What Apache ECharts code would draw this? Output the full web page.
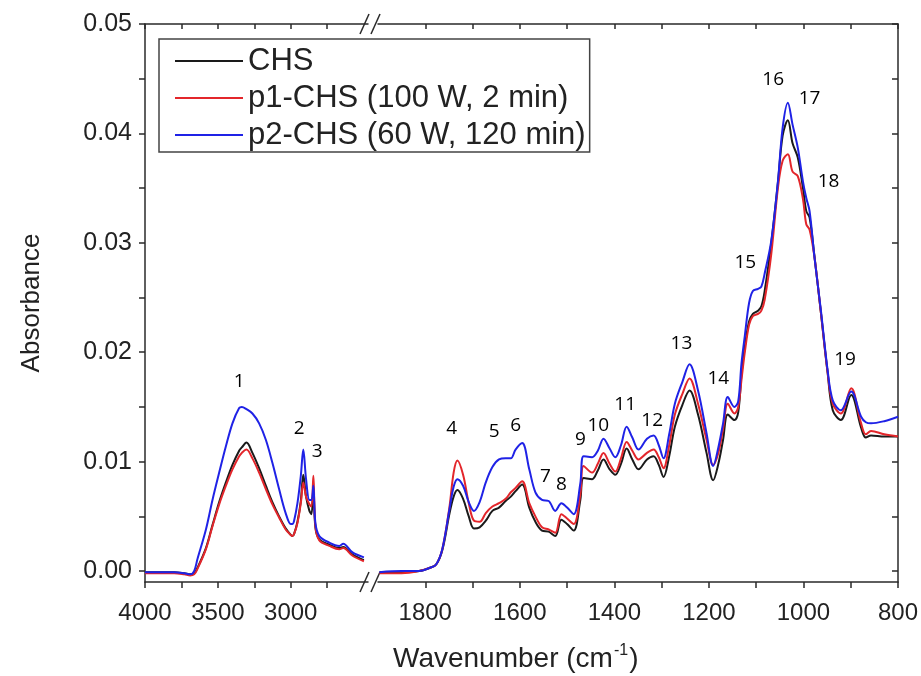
<!DOCTYPE html>
<html>
<head>
<meta charset="utf-8">
<script src="https://cdn.jsdelivr.net/npm/echarts@6/dist/echarts.min.js"></script>
<style>
html,body{margin:0;padding:0;background:#fff;}
#chart{width:921px;height:676px;}
</style>
</head>
<body>
<div id="chart"></div>
<script>
// ---- Data ----
const seriesNames = ['CHS', 'p1-CHS (100 W, 2 min)', 'p2-CHS (60 W, 120 min)'];

// High wavenumber segment (4000 - 2500 cm-1)
const wnHigh = [4000, 3900, 3800, 3730, 3690, 3663, 3640, 3582, 3537, 3491, 3445, 3400, 3354, 3336, 3304, 3263, 3217, 3171, 3126, 3080, 3035, 3000, 2989, 2977, 2954, 2931, 2914, 2895, 2872, 2858, 2845, 2831, 2804, 2735, 2667, 2640, 2576, 2498];
const chsHigh = [-0.0001, -0.0001, -0.0001, -0.0002, -0.0003, -0.0002, 0.0003, 0.0021, 0.0042, 0.0063, 0.0081, 0.0097, 0.0110, 0.0113, 0.01175, 0.0108, 0.0094, 0.0078, 0.0063, 0.0050, 0.0039, 0.0033, 0.0032, 0.0034, 0.0045, 0.0064, 0.0088, 0.0068, 0.0055, 0.0052, 0.0076, 0.0040, 0.0029, 0.0024, 0.0021, 0.0022, 0.0015, 0.0010];
const p1High = [-0.0002, -0.0002, -0.0002, -0.0003, -0.0004, -0.0003, 0.0002, 0.0020, 0.0041, 0.0061, 0.0078, 0.0093, 0.0105, 0.0108, 0.0111, 0.0103, 0.0090, 0.0075, 0.0061, 0.0049, 0.0038, 0.0033, 0.0032, 0.0034, 0.0044, 0.0062, 0.0081, 0.0068, 0.0061, 0.0059, 0.0087, 0.0041, 0.0028, 0.0023, 0.0020, 0.0021, 0.0014, 0.0009];
const p2High = [-0.0001, -0.0001, -0.0001, -0.0002, -0.0003, 0.0000, 0.0011, 0.0038, 0.0065, 0.0090, 0.0114, 0.0135, 0.0149, 0.0150, 0.0148, 0.0144, 0.0135, 0.0120, 0.0099, 0.0075, 0.0053, 0.0043, 0.0043, 0.0046, 0.0062, 0.0087, 0.0111, 0.0084, 0.0065, 0.0065, 0.0078, 0.0044, 0.0032, 0.0026, 0.0023, 0.0025, 0.0017, 0.00125];

// Low wavenumber segment (1900 - 800 cm-1)
const wnLow = [1897, 1850, 1813, 1790, 1777, 1764, 1749, 1740, 1732, 1720, 1708, 1697, 1685, 1672, 1658, 1644, 1630, 1619, 1609, 1595, 1580, 1567, 1553, 1539, 1525, 1512, 1500, 1486, 1472, 1465, 1447, 1435, 1423, 1410, 1398, 1386, 1374, 1362, 1349, 1331, 1317, 1306, 1296, 1284, 1272, 1256, 1241, 1223, 1205, 1191, 1180, 1170, 1160, 1146, 1138, 1131, 1124, 1115, 1107, 1096, 1089, 1082, 1068, 1054, 1044, 1033, 1023, 1012, 1001, 994, 987, 977, 963, 949, 938, 921, 899, 878, 868, 857, 829, 800];
const chsLow = [-0.0001, -0.0001, 0.0000, 0.0003, 0.0006, 0.0019, 0.0052, 0.0068, 0.0074, 0.0066,
  0.0050, 0.0039, 0.0040, 0.0046, 0.0055, 0.0058, 0.0064, 0.0068, 0.0073, 0.0079,
  0.0058, 0.0045, 0.0037, 0.0036, 0.0032, 0.0047, 0.0043, 0.0037, 0.0065, 0.0085,
  0.0084, 0.0092, 0.0102, 0.0093, 0.0088, 0.0098, 0.0112, 0.0102, 0.0093, 0.0102,
  0.0105, 0.0097, 0.0086, 0.0105, 0.0132, 0.0152, 0.0165, 0.0143, 0.0108, 0.0083,
  0.0098, 0.0120, 0.0143, 0.0138, 0.0145, 0.0180, 0.0205, 0.0228, 0.0235, 0.0238,
  0.0242, 0.0256, 0.0300, 0.0355, 0.0398, 0.0412, 0.0391, 0.0378, 0.0350, 0.0329,
  0.0323, 0.0289, 0.0236, 0.0182, 0.0147, 0.0138, 0.0161, 0.0131, 0.0122, 0.0124,
  0.0123, 0.0123];
const p1Low = [-0.0002, -0.0002, 0.0000, 0.0003, 0.0006, 0.0020, 0.0058, 0.0090, 0.0101, 0.0088,
  0.0062, 0.0046, 0.0045, 0.0053, 0.0059, 0.0062, 0.0066, 0.0072, 0.0076, 0.0082,
  0.0062, 0.0050, 0.0040, 0.0038, 0.0035, 0.0052, 0.0048, 0.0043, 0.0070, 0.0096,
  0.0090, 0.0098, 0.0108, 0.0098, 0.0091, 0.0103, 0.0118, 0.0110, 0.0102, 0.0108,
  0.0111, 0.0104, 0.0094, 0.0115, 0.0143, 0.0162, 0.0176, 0.0153, 0.0120, 0.0097,
  0.0108, 0.0130, 0.0153, 0.0144, 0.0150, 0.0175, 0.0200, 0.0225, 0.0233, 0.0235,
  0.0238, 0.0248, 0.0290, 0.0350, 0.0375, 0.0381, 0.0365, 0.0361, 0.0340, 0.0317,
  0.0312, 0.0288, 0.0236, 0.0182, 0.0153, 0.0144, 0.0167, 0.0135, 0.0125, 0.0128,
  0.0125, 0.0123];
const p2Low = [-0.0001, 0.0000, 0.0000, 0.0003, 0.0006, 0.0020, 0.0056, 0.0077, 0.0084, 0.0078,
  0.0063, 0.0055, 0.0063, 0.0081, 0.0095, 0.0102, 0.0103, 0.0103, 0.0111, 0.0117,
  0.0093, 0.0072, 0.0065, 0.0064, 0.0055, 0.0062, 0.0058, 0.0052, 0.0080, 0.0105,
  0.0104, 0.0110, 0.0121, 0.0112, 0.0104, 0.0115, 0.0132, 0.0122, 0.0111, 0.0121,
  0.0124, 0.0115, 0.0103, 0.0125, 0.0153, 0.0173, 0.0189, 0.0165, 0.0126, 0.0096,
  0.0113, 0.0135, 0.0159, 0.0150, 0.0155, 0.0190, 0.0215, 0.0245, 0.0256, 0.0258,
  0.0260, 0.0272, 0.0302, 0.0356, 0.0405, 0.0428, 0.0408, 0.0387, 0.0356, 0.0341,
  0.0329, 0.0288, 0.0238, 0.0184, 0.0156, 0.0147, 0.0164, 0.0141, 0.0136, 0.0135,
  0.0137, 0.0141];

// Band annotations (number, wavenumber, absorbance where the number sits)
const bandHighNames = ['1', '2', '3'];
const bandHighWn = [3354, 2943, 2818];
const bandHighAbs = [0.01736, 0.01300, 0.01094];
const bandLowNames = ['4', '5', '6', '7', '8', '9', '10', '11', '12', '13', '14', '15', '16', '17', '18', '19'];
const bandLowWn = [1744, 1654, 1609, 1546, 1512, 1472, 1434, 1377, 1320, 1258, 1180, 1123, 1064, 987, 947, 912];
const bandLowAbs = [0.01306, 0.01276, 0.01327, 0.0086, 0.0079, 0.0120, 0.01327, 0.0152, 0.01376, 0.0208, 0.0176, 0.0282, 0.0449, 0.0432, 0.0356, 0.0193];

// Axis ticks
const highTicks = [4000, 3750, 3500, 3250, 3000, 2750];
const highLabels = [4000, 3500, 3000];
const lowTicks = [1800, 1700, 1600, 1500, 1400, 1300, 1200, 1100, 1000, 900, 800];
const lowLabels = [1800, 1600, 1400, 1200, 1000, 800];
const yTicks = [0, 0.005, 0.01, 0.015, 0.02, 0.025, 0.03, 0.035, 0.04, 0.045, 0.05];
const yLabels = [0, 0.01, 0.02, 0.03, 0.04, 0.05];

// ---- Chart ----
const colors = ['#1a1a1a', '#e3262b', '#1f22e6'];
const FONT = '"Liberation Sans", Arial, sans-serif';
const AXC = '#2a2a2a';

function zip(xs, ys) { return xs.map((x, i) => [x, ys[i]]); }

const chart = echarts.init(document.getElementById('chart'), null, {renderer: 'canvas'});

const gridTop = 24, gridBottom = 676 - 582;
const axisLineStyle = {color: AXC, width: 1.5};

function bottomX(gridIndex, min, max, ticks, labels) {
  return {
    gridIndex, type: 'value', inverse: true, min, max, position: 'bottom',
    axisLine: {show: true, onZero: false, lineStyle: axisLineStyle},
    axisTick: {show: true, inside: false, length: 6, customValues: ticks, lineStyle: axisLineStyle},
    axisLabel: {show: true, customValues: labels, formatter: v => String(v), fontSize: 24, fontFamily: FONT, color: '#222', margin: 19},
    splitLine: {show: false}
  };
}
function topX(gridIndex, min, max, ticks) {
  return {
    gridIndex, type: 'value', inverse: true, min, max, position: 'top',
    axisLine: {show: true, onZero: false, lineStyle: axisLineStyle},
    axisTick: {show: true, inside: true, length: 5, customValues: ticks, lineStyle: axisLineStyle},
    axisLabel: {show: false},
    splitLine: {show: false}
  };
}

const lineSeries = [];
const segs = [
  {xi: 0, yi: 0, data: [chsHigh, p1High, p2High], wn: wnHigh},
  {xi: 2, yi: 1, data: [chsLow, p1Low, p2Low], wn: wnLow}
];
segs.forEach(s => {
  s.data.forEach((vals, k) => {
    lineSeries.push({
      name: seriesNames[k], type: 'line', xAxisIndex: s.xi, yAxisIndex: s.yi,
      data: zip(s.wn, vals), symbol: 'none', showSymbol: false, smooth: 0.35,
      lineStyle: {color: colors[k], width: 2}, itemStyle: {color: colors[k]},
      emphasis: {disabled: true}, silent: true, z: 2 + k
    });
  });
});

const bandLabel = {
  show: true, position: 'inside', formatter: p => p.value[2],
  fontFamily: '"Open Sans", "Noto Sans", sans-serif', fontSize: 19, color: '#000', opacity: 1
};
lineSeries.push({
  type: 'scatter', xAxisIndex: 0, yAxisIndex: 0, symbolSize: 2, itemStyle: {color: 'rgba(0,0,0,0)'},
  data: bandHighNames.map((n, i) => [bandHighWn[i], bandHighAbs[i], n]),
  label: bandLabel, silent: true, z: 10
});
lineSeries.push({
  type: 'scatter', xAxisIndex: 2, yAxisIndex: 1, symbolSize: 2, itemStyle: {color: 'rgba(0,0,0,0)'},
  data: bandLowNames.map((n, i) => [bandLowWn[i], bandLowAbs[i], n]),
  label: bandLabel, silent: true, z: 10
});

const breakLine = {stroke: AXC, lineWidth: 1.5};
const option = {
  animation: false,
  backgroundColor: '#ffffff',
  grid: [
    {left: 145, top: gridTop, width: 223, bottom: gridBottom, containLabel: false},
    {left: 378, top: gridTop, right: 21, bottom: gridBottom, containLabel: false}
  ],
  xAxis: [
    bottomX(0, 2470, 4000, highTicks, highLabels),
    topX(0, 2470, 4000, highTicks),
    bottomX(1, 800, 1900, lowTicks, lowLabels),
    topX(1, 800, 1900, lowTicks)
  ],
  yAxis: [
    {
      gridIndex: 0, type: 'value', min: -0.001, max: 0.05, position: 'left',
      name: 'Absorbance', nameLocation: 'middle', nameGap: 100, nameRotate: 90,
      nameTextStyle: {fontSize: 26, fontFamily: FONT, color: '#222'},
      axisLine: {show: true, onZero: false, lineStyle: axisLineStyle},
      axisTick: {show: true, inside: false, length: 6, customValues: yTicks, lineStyle: axisLineStyle},
      axisLabel: {show: true, customValues: yLabels, formatter: v => v.toFixed(2), fontSize: 25, fontFamily: FONT, color: '#222', margin: 13},
      splitLine: {show: false}
    },
    {
      gridIndex: 1, type: 'value', min: -0.001, max: 0.05, position: 'right',
      axisLine: {show: true, onZero: false, lineStyle: axisLineStyle},
      axisTick: {show: true, inside: true, length: 6, customValues: yTicks, lineStyle: axisLineStyle},
      axisLabel: {show: false},
      splitLine: {show: false}
    }
  ],
  legend: {
    data: seriesNames, orient: 'vertical', left: 159, top: 39,
    backgroundColor: '#fff', icon: 'rect',
    borderColor: '#444', borderWidth: 1.5, borderRadius: 0,
    padding: [6, 4, 1, 16], itemGap: 5, itemWidth: 68, itemHeight: 2,
    textStyle: {fontSize: 31, fontFamily: FONT, color: '#222', lineHeight: 32},
    selectedMode: false
  },
  graphic: [
    {type: 'line', shape: {x1: 360, y1: 592, x2: 369, y2: 572}, style: breakLine, silent: true},
    {type: 'line', shape: {x1: 371, y1: 592, x2: 380, y2: 572}, style: breakLine, silent: true},
    {type: 'line', shape: {x1: 360, y1: 34, x2: 369, y2: 14}, style: breakLine, silent: true},
    {type: 'line', shape: {x1: 371, y1: 34, x2: 380, y2: 14}, style: breakLine, silent: true},
    {
      type: 'text', left: 393, top: 643, silent: true,
      style: {
        text: '{a|Wavenumber (cm}{s|-1}{a|)}',
        rich: {
          a: {fontSize: 28, fontFamily: FONT, fill: '#222', color: '#222'},
          s: {fontSize: 16, fontFamily: FONT, fill: '#222', color: '#222', padding: [0, 1, 16, 1]}
        }
      }
    }
  ],
  series: lineSeries
};
chart.setOption(option);
</script>
</body>
</html>
